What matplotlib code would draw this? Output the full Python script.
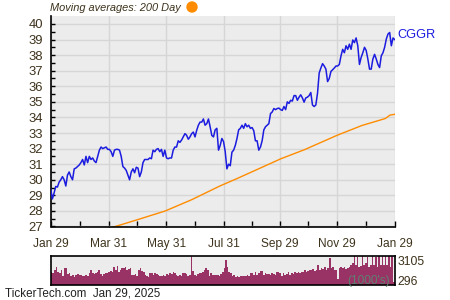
import numpy as np
import pandas as pd
import matplotlib
matplotlib.use("Agg")
import matplotlib.pyplot as plt
from matplotlib.patches import Circle

# ---------------- data ----------------
start_date = "2024-01-29"
end_date = "2025-01-29"

price = [
    29.4, 28.77, 29.15, 29.57, 29.53, 29.85, 30.0, 30.2, 30.0, 29.6,
    30.3, 30.5, 30.2, 30.0, 30.7, 30.75, 30.85, 30.95, 31.1, 31.3,
    30.95, 31.5, 31.1, 31.5, 31.3, 31.4, 31.2, 31.1, 31.5, 31.9,
    32.1, 32.0, 32.05, 32.1, 31.95, 31.95, 31.8, 31.5, 31.9, 31.95,
    31.95, 31.9, 31.5, 30.85, 30.75, 30.6, 30.3, 30.0, 30.5, 30.7,
    30.45, 30.8, 30.75,
    30.2, 30.5, 31.1, 31.3, 31.3, 31.3, 31.4, 31.35, 31.9, 31.8,
    31.95, 32.0, 31.8, 31.95, 31.5, 31.9, 31.4, 31.35, 31.4, 31.4,
    31.9, 32.1, 32.1, 32.5, 32.4, 32.55, 32.75, 32.96, 32.85, 32.6,
    32.75, 32.96, 33.06, 32.75, 33.17, 33.5, 33.7, 33.7, 33.9, 33.5,
    33.6, 33.9, 33.4, 32.85, 32.75, 33.2, 33.3, 31.9,
    32.2, 32.65, 32.45, 31.8, 30.7, 31.0, 30.9, 31.77, 31.9, 32.2,
    32.65, 33.2, 33.3, 33.5, 33.3, 33.6, 33.4, 33.5, 33.3, 33.35,
    33.15, 32.5, 32.5, 31.9, 32.1, 32.5, 33.2, 33.4, 33.5, 33.6,
    34.25, 34.35, 34.57, 34.5, 34.57, 34.6, 34.5, 34.45, 34.7, 34.5,
    35.0, 34.9, 35.1, 35.05, 35.4, 35.4, 35.1, 35.3,
    35.45, 35.25, 34.98, 35.25, 35.3, 35.4, 35.6, 34.8, 34.7, 34.8,
    35.55, 36.85, 37.17, 37.45, 37.3, 37.1, 36.3, 36.5, 36.95, 37.06,
    37.17, 37.3, 37.3, 37.4, 37.95, 38.37, 38.15, 38.6, 38.37, 38.7,
    38.37, 38.97, 38.8, 39.1, 38.6, 37.4, 37.85, 38.15, 38.5, 38.3,
    37.75, 37.1, 37.1, 37.75, 38.05, 37.75, 37.4, 37.2, 37.95, 38.15,
    38.5, 39.03, 39.35, 39.45, 38.6, 39.1, 39.0,
]

ma_dates = ["2024-04-04", "2024-05-01", "2024-05-30", "2024-06-27", "2024-07-27",
            "2024-08-14", "2024-09-30", "2024-10-25", "2024-11-29", "2024-12-25",
            "2025-01-19", "2025-01-24", "2025-01-29"]
ma_values = [26.95, 27.45, 28.0, 28.72, 29.6, 30.07, 31.35, 31.93, 32.86, 33.48,
             33.93, 34.15, 34.2]

volume = [
    1425, 1242, 1607, 1973, 1352, 1242, 1607, 950, 1790, 1790,
    1132, 1242, 986, 1059, 877, 1059, 1132, 1059, 1059, 986,
    986, 1059, 986, 1242, 1607, 1242, 1132, 1242, 1352, 1607,
    1132, 986, 1132, 1242, 1242, 1352, 1498, 1425, 1973, 1607,
    2082, 1425, 1607, 1790, 1863, 1973, 1607, 1717, 1790, 1059,
    1059, 1132, 986, 1607, 1790, 1498, 1352, 1059, 986, 877,
    1242, 1242, 1059, 1242, 1132, 1059, 986, 986, 1059,
    986, 1132, 1059, 1242, 1132, 1352, 1242, 1059, 986, 1059,
    986, 1242, 1242, 1132, 986, 1059, 3105, 1498, 1059, 986,
    1132, 1242, 1242, 1425, 1607, 1790, 1607, 986, 1242, 1059,
    1059, 1059, 1059, 986, 1132, 1425, 1790, 2703, 1973, 1425,
    1242, 986, 1059, 877, 986, 877, 986, 986, 986, 986,
    1059, 986, 1242, 1242, 1059, 1352, 1059, 1242, 1498, 1498,
    1059, 1242, 1132, 1132, 1059, 1242, 1132, 1059, 1352, 1425,
    1242, 986, 1242, 1059, 1132, 1352, 1059, 1242, 1132, 1352,
    1242, 1425, 1242, 1425, 1352, 1607, 1425, 1498, 1607, 1607,
    1717, 1498, 1607, 2155, 1607, 1790, 1717, 1973, 1607, 1790,
    2886, 1790, 1973, 1607, 1607, 694, 1790, 1973, 1863, 1973,
    1717, 1863, 1973, 2155, 2338, 3069, 2155, 2959, 1973, 2082,
    3069, 2155, 2338, 2959, 1973, 2155, 3069, 2155, 2959, 1973,
    3069, 2155, 3105, 2155, 3069, 2155, 3105, 1973, 3105, 329,
]

xtick_dates = ["2024-01-29", "2024-03-31", "2024-05-31", "2024-07-31",
               "2024-09-29", "2024-11-29", "2025-01-29"]
xtick_labels = ["Jan 29", "Mar 31", "May 31", "Jul 31", "Sep 29", "Nov 29", "Jan 29"]
minor_dates = ["2024-02-29", "2024-04-30", "2024-06-30", "2024-08-30",
               "2024-10-29", "2024-12-30"]
yticks = list(range(27, 41))
ticker = "CGGR"
vol_max_label = "3105"
vol_min_label = "296"
title_text = "Moving averages: 200 Day"
footer_text = "TickerTech.com  Jan 29, 2025"

# ---------------- style ----------------
plt.rcParams['font.family'] = ['Liberation Sans', 'DejaVu Sans']
TXT = '#3d321c'
BG = '#ececec'
GRID = '#d6d6d6'
BLUE = '#1c1ce0'
ORANGE = '#ff8c00'
VOLC = '#993366'

fig = plt.figure(figsize=(4.5, 3.0), dpi=100)
fig.patch.set_facecolor('white')

t0 = pd.Timestamp(start_date)
t1 = pd.Timestamp(end_date)
px = pd.date_range(t0, t1, periods=len(price))

ax = fig.add_axes([0.1127, 0.245, 0.7644, 0.7017])
ax.set_facecolor(BG)
ax.plot(px, price, color=BLUE, lw=1.1, zorder=3)
ax.plot(pd.to_datetime(ma_dates), ma_values, color=ORANGE, lw=1.0, zorder=2)
ax.set_xlim(t0, t1)
ax.set_ylim(27, 40.51)
ax.set_yticks(yticks)
ax.set_yticks(np.arange(27.5, 40.5, 1.0), minor=True)
ax.set_xticks(pd.to_datetime(xtick_dates))
ax.set_xticklabels(xtick_labels)
ax.set_xticks(pd.to_datetime(minor_dates), minor=True)
ax.grid(True, which='major', color=GRID, lw=1.0, zorder=0)
ax.set_axisbelow(True)
for s in ['top', 'right']:
    ax.spines[s].set_visible(False)
for s in ['left', 'bottom']:
    ax.spines[s].set_color('black')
    ax.spines[s].set_linewidth(1.2)
ax.tick_params(axis='y', which='both', direction='in', length=3, width=1,
               colors='black', labelcolor=TXT, labelsize=9.4, pad=5.5)
ax.tick_params(axis='x', which='both', direction='in', length=4.5, width=1,
               colors='black', labelcolor=TXT, labelsize=8.6, pad=8)

ax.text(1.007, (39.3 - 27) / 13.51, ticker, transform=ax.transAxes, color=BLUE,
        fontsize=9.2, va='center', ha='left')

fig.text(50 / 450, 1 - 8 / 300, title_text, fontsize=7.9, style='italic',
         color=TXT, ha='left', va='center')
fig.add_artist(Circle((192, 300 - 7), 5, transform=None, color=ORANGE))

# volume panel
axv = fig.add_axes([0.1127, 0.05, 0.7644, 0.0967])
axv.set_facecolor(BG)
vx = np.arange(len(volume))
axv.bar(vx, volume, width=1.0, color=VOLC, linewidth=0)
axv.set_xlim(-0.5, len(volume) - 0.5)
axv.set_ylim(0, 3105)
axv.set_xticks([])
axv.set_yticks([])
for s in axv.spines.values():
    s.set_color('black')
    s.set_linewidth(1.2)
axv.text(1.007, 0.79, vol_max_label, transform=axv.transAxes, fontsize=8.8,
         color=TXT, ha='left', va='center')
axv.text(1.007, 0.12, vol_min_label, transform=axv.transAxes, fontsize=8.8,
         color=TXT, ha='left', va='center')
axv.text(0.985, 0.15, "(1000's)", transform=axv.transAxes, fontsize=8.6,
         color='#5f7f6f', ha='right', va='center')

fig.text(5 / 450, 1 - 294 / 300, footer_text, fontsize=8.4, color='#222222',
         ha='left', va='center')

fig.savefig('out.png', dpi=100)
